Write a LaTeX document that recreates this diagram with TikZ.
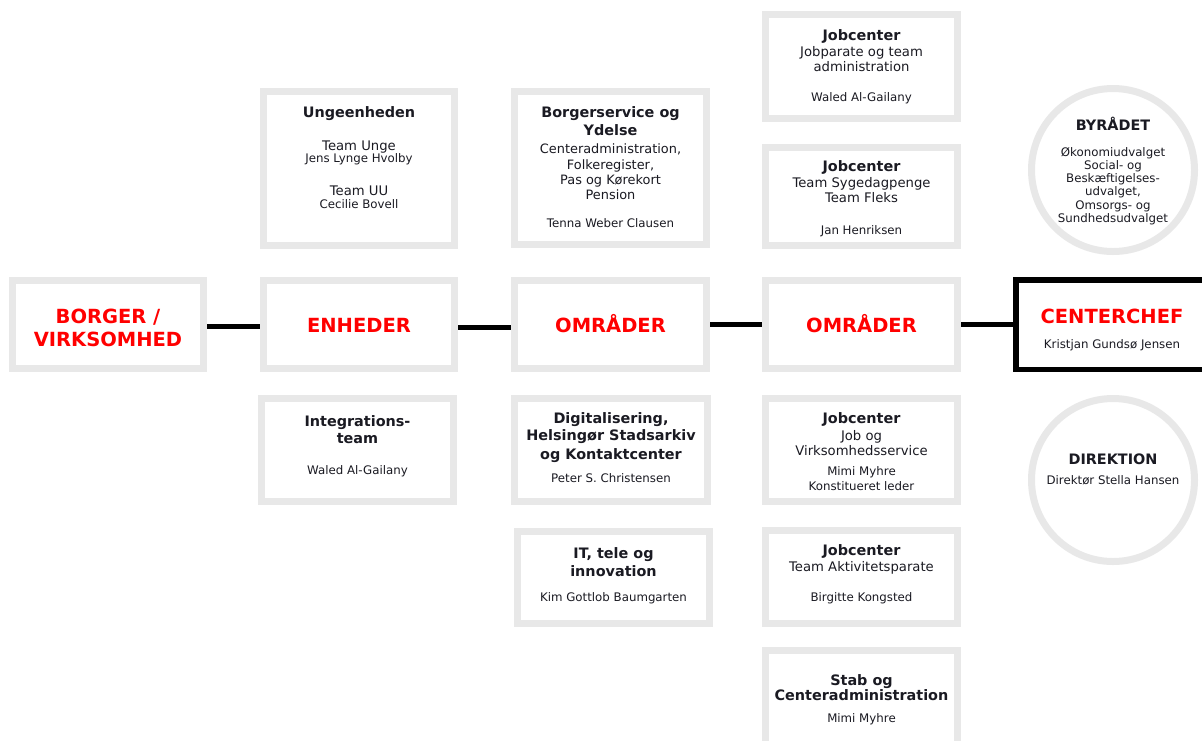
\documentclass[tikz,border=0pt]{standalone}
\usepackage{fontspec}
\setmainfont{DejaVu Sans}
\definecolor{boxgray}{RGB}{232,232,232}
\definecolor{txt}{RGB}{26,26,34}
\definecolor{redtxt}{RGB}{255,0,0}
\tikzset{
  box/.style={draw=boxgray, line width=7pt, fill=white, inner sep=0pt, rectangle},
  circ/.style={draw=boxgray, line width=7pt, fill=white, inner sep=0pt, circle, minimum size=163pt},
  chefbox/.style={draw=black, line width=5.5pt, fill=white, inner sep=0pt, rectangle},
  conn/.style={draw=black, line width=5pt},
  ttl/.style={anchor=base, inner sep=0pt, text=txt, font=\fontsize{14.4}{17}\selectfont\bfseries},
  reg/.style={anchor=base, inner sep=0pt, text=txt, font=\fontsize{13.2}{15}\selectfont},
  regs/.style={anchor=base, inner sep=0pt, text=txt, font=\fontsize{12.9}{15}\selectfont},
  sml/.style={anchor=base, inner sep=0pt, text=txt, font=\fontsize{11.8}{14}\selectfont},
  big/.style={anchor=base, inner sep=0pt, text=redtxt, font=\fontsize{19.5}{23}\selectfont\bfseries},
}
\begin{document}
\begin{tikzpicture}[x=1pt,y=-1pt]
\useasboundingbox (0,0) rectangle (1202,740);
\clip (0,0) rectangle (1202,740);
\fill[white] (0,0) rectangle (1202,740);

% main row boxes
\node[box, minimum width=191pt, minimum height=88pt] (borger) at (108,324.5) {};
\node[box, minimum width=191pt, minimum height=88pt] (enheder) at (359,324.5) {};
\node[box, minimum width=192pt, minimum height=88pt] (omr1) at (610.5,324.5) {};
\node[box, minimum width=192pt, minimum height=88pt] (omr2) at (861.5,324.5) {};
\node[chefbox, minimum width=211.5pt, minimum height=89.5pt] (chef) at (1121.5,324.5) {};

% upper boxes
\node[box, minimum width=191pt, minimum height=154pt] (unge) at (359,168.5) {};
\node[box, minimum width=192pt, minimum height=153pt] (borgs) at (610.5,168) {};
\node[box, minimum width=192pt, minimum height=104pt] (job1) at (861.5,66.5) {};
\node[box, minimum width=192pt, minimum height=98pt] (job2) at (861.5,196.5) {};

% lower boxes
\node[box, minimum width=192pt, minimum height=103pt] (integ) at (357.5,450) {};
\node[box, minimum width=193pt, minimum height=103pt] (digi) at (611,450) {};
\node[box, minimum width=192pt, minimum height=92pt] (itbox) at (613.5,577.5) {};
\node[box, minimum width=192pt, minimum height=103pt] (job3) at (861.5,450) {};
\node[box, minimum width=192pt, minimum height=93pt] (job4) at (861.5,577) {};
\node[box, minimum width=192pt, minimum height=96pt] (stab) at (861.5,698.5) {};

% circles
\node[circ] (byr) at (1113,170) {};
\node[circ] (dir) at (1113,480) {};

% connectors
\draw[conn] (borger.east |- 0,326) -- (enheder.west |- 0,326);
\draw[conn] (enheder.east |- 0,327) -- (omr1.west |- 0,327);
\draw[conn] (omr1.east |- 0,324) -- (omr2.west |- 0,324);
\draw[conn] (omr2.east |- 0,324) -- (chef.west |- 0,324);

% main row texts
\node[big] (tb1) at (108,323.3) {BORGER /};
\node[big] (tb2) at (108,346) {VIRKSOMHED};
\node[big] (te1) at (359,332.3) {ENHEDER};
\node[big] (to1) at (610.5,332) {OMRÅDER};
\node[big] (to2) at (861.5,332) {OMRÅDER};
\node[big] (tc1) at (1112,323) {CENTERCHEF};
\node[sml] (tc2) at (1112,348) {Kristjan Gundsø Jensen};

% Ungeenheden
\node[ttl] (tu1) at (359,117.3) {Ungeenheden};
\node[reg] (tu2) at (359,150) {Team Unge};
\node[sml] (tu3) at (359,162.5) {Jens Lynge Hvolby};
\node[reg] (tu4) at (359,195) {Team UU};
\node[sml] (tu5) at (359,208.3) {Cecilie Bovell};

% Borgerservice
\node[ttl] (tbs1) at (610.5,117.7) {Borgerservice og};
\node[ttl] (tbs2) at (610.5,135.7) {Ydelse};
\node[regs] (tbs3) at (610.5,153.3) {Centeradministration,};
\node[regs] (tbs4) at (610.5,169.3) {Folkeregister,};
\node[regs] (tbs5) at (610.5,184.5) {Pas og Kørekort};
\node[regs] (tbs6) at (610.5,199) {Pension};
\node[sml] (tbs7) at (610.5,227.7) {Tenna Weber Clausen};

% Jobcenter 1
\node[ttl] (tj11) at (861.5,40) {Jobcenter};
\node[reg] (tj12) at (861.5,56) {Jobparate og team};
\node[reg] (tj13) at (861.5,71) {administration};
\node[sml] (tj14) at (861.5,101.7) {Waled Al-Gailany};

% Jobcenter 2
\node[ttl] (tj21) at (861.5,171.7) {Jobcenter};
\node[reg] (tj22) at (861.5,187.7) {Team Sygedagpenge};
\node[reg] (tj23) at (861.5,202.7) {Team Fleks};
\node[sml] (tj24) at (861.5,234.3) {Jan Henriksen};

% Byraadet
\node[ttl] (tby1) at (1113,130.7) {BYRÅDET};
\node[sml] (tby2) at (1113,156) {Økonomiudvalget};
\node[sml] (tby3) at (1113,169.3) {Social- og};
\node[sml] (tby4) at (1113,182.5) {Beskæftigelses-};
\node[sml] (tby5) at (1113,195.5) {udvalget,};
\node[sml] (tby6) at (1113,209.3) {Omsorgs- og};
\node[sml] (tby7) at (1113,222.7) {Sundhedsudvalget};

% Integrationsteam
\node[ttl] (ti1) at (357.5,426) {Integrations-};
\node[ttl] (ti2) at (357.5,443.3) {team};
\node[sml] (ti3) at (357.5,474) {Waled Al-Gailany};

% Digitalisering
\node[ttl] (td1) at (611,423.3) {Digitalisering,};
\node[ttl] (td2) at (611,440.7) {Helsingør Stadsarkiv};
\node[ttl] (td3) at (611,459) {og Kontaktcenter};
\node[sml] (td4) at (611,482.7) {Peter S. Christensen};

% IT
\node[ttl] (tit1) at (613.5,558.3) {IT, tele og};
\node[ttl] (tit2) at (613.5,576.7) {innovation};
\node[sml] (tit3) at (613.5,601) {Kim Gottlob Baumgarten};

% Jobcenter 3
\node[ttl] (tj31) at (861.5,423.3) {Jobcenter};
\node[reg] (tj32) at (861.5,440) {Job og};
\node[reg] (tj33) at (861.5,455.3) {Virksomhedsservice};
\node[sml] (tj34) at (861.5,475) {Mimi Myhre};
\node[sml] (tj35) at (861.5,490) {Konstitueret leder};

% Jobcenter 4
\node[ttl] (tj41) at (861.5,555.7) {Jobcenter};
\node[reg] (tj42) at (861.5,571.7) {Team Aktivitetsparate};
\node[sml] (tj43) at (861.5,601) {Birgitte Kongsted};

% Stab
\node[ttl] (ts1) at (861.5,685) {Stab og};
\node[ttl] (ts2) at (861.5,700.3) {Centeradministration};
\node[sml] (ts3) at (861.5,722.7) {Mimi Myhre};

% Direktion
\node[ttl] (tdi1) at (1113,464) {DIREKTION};
\node[sml] (tdi2) at (1113,484) {Direktør Stella Hansen};
\end{tikzpicture}
\end{document}
